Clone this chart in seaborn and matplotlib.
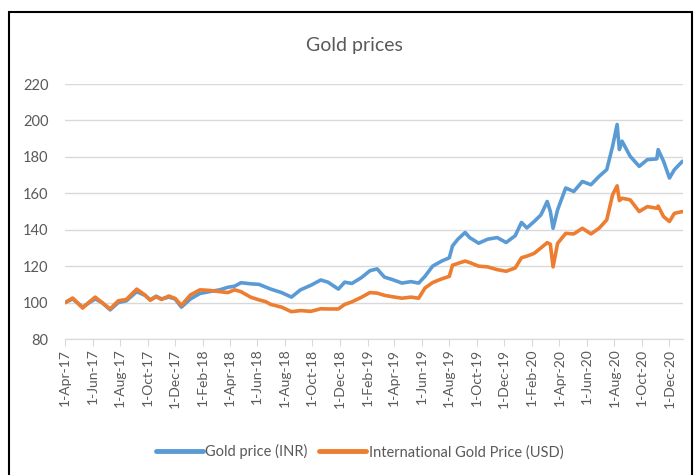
import pandas as pd
import seaborn as sns
import matplotlib.pyplot as plt
from matplotlib.patches import Rectangle

# values (indexed, Apr 2017 = 100)
dates = [
    "2017-04-01", "2017-04-18", "2017-05-10", "2017-05-25", "2017-06-07", "2017-06-22",
    "2017-07-10", "2017-07-28", "2017-08-15", "2017-09-07", "2017-09-25", "2017-10-07",
    "2017-10-20", "2017-11-01", "2017-11-17", "2017-12-01", "2017-12-15", "2018-01-04",
    "2018-01-25", "2018-02-15", "2018-03-10", "2018-03-28", "2018-04-12", "2018-04-26",
    "2018-05-18", "2018-06-05", "2018-06-20", "2018-07-01", "2018-07-25", "2018-08-16",
    "2018-09-05", "2018-09-28", "2018-10-20", "2018-11-05", "2018-11-28", "2018-12-12",
    "2018-12-28", "2019-01-18", "2019-02-06", "2019-02-22", "2019-03-10", "2019-03-28",
    "2019-04-18", "2019-05-08", "2019-05-25", "2019-06-08", "2019-06-25", "2019-07-15",
    "2019-08-01", "2019-08-08", "2019-08-20", "2019-09-05", "2019-09-15", "2019-10-05",
    "2019-10-25", "2019-11-15", "2019-12-05", "2019-12-25", "2020-01-08", "2020-01-20",
    "2020-02-05", "2020-02-20", "2020-03-05", "2020-03-12", "2020-03-18", "2020-03-28",
    "2020-04-15", "2020-05-03", "2020-05-22", "2020-06-10", "2020-06-28", "2020-07-15",
    "2020-07-28", "2020-08-07", "2020-08-12", "2020-08-18", "2020-09-05", "2020-09-25",
    "2020-10-13", "2020-11-03", "2020-11-06", "2020-11-18", "2020-12-01", "2020-12-12",
    "2020-12-30",
]

gold_inr = [
    100.0, 102.0, 97.5, 100.0, 102.0, 100.0,
    96.0, 100.0, 101.0, 106.0, 104.0, 101.5,
    103.5, 102.0, 103.0, 102.0, 97.5, 102.0,
    105.0, 106.0, 107.0, 108.4, 109.0, 110.9,
    110.3, 110.0, 108.5, 107.4, 105.5, 103.0,
    107.0, 109.5, 112.4, 111.2, 107.4, 111.2,
    110.5, 113.7, 117.5, 118.5, 114.0, 112.6,
    110.7, 111.5, 110.7, 114.4, 120.0, 122.8,
    124.6, 131.1, 134.8, 138.5, 135.7, 132.6,
    134.8, 135.7, 133.0, 136.7, 144.0, 141.0,
    144.5, 148.1, 155.5, 150.0, 140.8, 150.9,
    162.9, 161.0, 166.5, 164.7, 169.3, 173.0,
    185.8, 197.8, 184.0, 188.6, 180.3, 174.8,
    178.5, 178.9, 184.0, 177.6, 168.4, 173.0,
    177.6,
]

gold_usd = [
    100.0, 102.5, 97.0, 100.4, 103.0, 100.0,
    96.5, 101.0, 101.7, 107.4, 104.2, 101.3,
    103.2, 101.7, 103.6, 102.3, 98.5, 104.2,
    107.0, 106.7, 106.0, 105.5, 107.0, 106.0,
    102.9, 101.5, 100.5, 99.0, 97.5, 95.0,
    95.6, 95.2, 96.6, 96.5, 96.5, 99.0,
    100.4, 102.9, 105.5, 105.2, 104.0, 103.2,
    102.4, 103.0, 102.4, 108.0, 111.0, 113.0,
    114.4, 120.5, 121.5, 122.8, 122.0, 120.0,
    119.6, 118.1, 117.2, 119.0, 124.6, 125.5,
    127.0, 130.0, 132.9, 132.0, 119.6, 132.5,
    138.0, 137.7, 140.8, 137.7, 140.8, 145.4,
    159.2, 164.1, 156.0, 157.3, 156.4, 150.0,
    152.7, 151.8, 153.0, 147.2, 144.5, 149.0,
    150.0,
]

series_names = ["Gold price (INR)", "International Gold Price (USD)"]
series_colors = ["#5B9BD5", "#ED7D31"]
tick_dates = pd.date_range("2017-04-01", "2020-12-01", freq="2MS")

df = pd.DataFrame({
    "date": pd.to_datetime(dates * 2),
    "price": gold_inr + gold_usd,
    "series": [series_names[0]] * len(dates) + [series_names[1]] * len(dates),
})

sns.set_style("white")
plt.rcParams["font.family"] = ["Lato", "DejaVu Sans"]
text_col = "#595959"
grid_col = "#D9D9D9"

fig = plt.figure(figsize=(6.94, 4.75), dpi=100)
ax = fig.add_axes([0.0937, 0.2863, 0.8904, 0.5368])

sns.lineplot(data=df, x="date", y="price", hue="series", hue_order=series_names,
             palette=series_colors, linewidth=2.6, ax=ax)

ax.set_ylim(80, 220)
ax.set_yticks(range(80, 221, 20))
ax.set_xlim(pd.Timestamp("2017-04-01"), pd.Timestamp("2020-12-31"))
ax.set_xticks(tick_dates)
ax.set_xticklabels([f"{d.day}-{d:%b-%y}" for d in tick_dates], rotation=90)
ax.set_xlabel("")
ax.set_ylabel("")

ax.grid(axis="y", color=grid_col, linewidth=1)
ax.set_axisbelow(True)
for side in ["left", "right", "top"]:
    ax.spines[side].set_visible(False)
ax.spines["bottom"].set_color(grid_col)
ax.tick_params(axis="x", direction="out", length=5, color=grid_col, labelsize=10,
               labelcolor=text_col, pad=2, bottom=True)
ax.tick_params(axis="y", length=0, labelsize=10.5, labelcolor=text_col, pad=12)

sns.move_legend(ax, "center", bbox_to_anchor=(0.477, -0.443), ncol=2, frameon=False,
                title=None, fontsize=10.5, handlelength=3.2, columnspacing=0.8,
                handletextpad=0.2, labelcolor=text_col)
for line in ax.get_legend().get_lines():
    line.set_linewidth(3.5)

fig.text(0.51, 0.905, "Gold prices", ha="center", va="center", fontsize=14, color=text_col)

fig.patches.append(Rectangle((9 / 694, -0.05), (692 - 9) / 694, 1.05 - 12 / 475,
                             transform=fig.transFigure, fill=False, edgecolor="black",
                             linewidth=1.5))

fig.savefig("out.png", dpi=100)
